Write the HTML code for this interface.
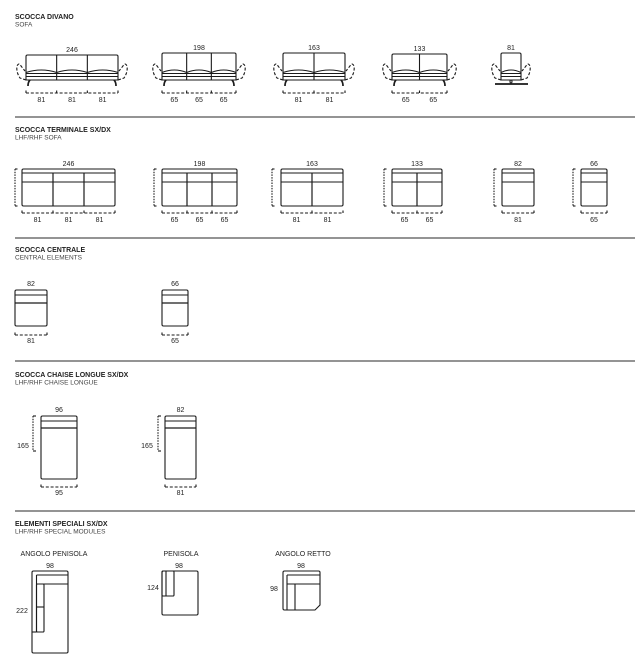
<!DOCTYPE html>
<html><head><meta charset="utf-8"><style>
html,body{margin:0;padding:0;background:#fff;}
svg{display:block;}
text{font-family:"Liberation Sans",sans-serif;fill:#222;}
.h{font-size:7px;font-weight:bold;}
.s{font-size:6.5px;fill:#444;}
.n{font-size:7px;text-anchor:middle;}
</style></head><body>
<svg id="d" width="635" height="659" viewBox="0 0 635 659" xmlns="http://www.w3.org/2000/svg">
<g id="g" fill="none" stroke="#1a1a1a" stroke-width="1.1"></g>
<g id="t"></g>
</svg>
<script>
var G=document.getElementById('g'),T=document.getElementById('t'),NS='http://www.w3.org/2000/svg';
function el(p,tag,a,txt){var e=document.createElementNS(NS,tag);for(var k in a)e.setAttribute(k,a[k]);if(txt!==undefined)e.textContent=txt;p.appendChild(e);return e;}
function P(d,extra){var a={d:d};for(var k in extra)a[k]=extra[k];return el(G,'path',a);}
function L(x1,y1,x2,y2,extra){var a={x1:x1,y1:y1,x2:x2,y2:y2};for(var k in extra)a[k]=extra[k];return el(G,'line',a);}
function R(x,y,w,h,rx){return el(G,'rect',{x:x,y:y,width:w,height:h,rx:rx||1.5});}
function tx(x,y,s,c){return el(T,'text',{x:x,y:y,'class':c||'n'},s);}
var D={'stroke-dasharray':'3,1.8'};
function dim(x1,x2,y,divs,labels,ly){
  L(x1,y,x2,y,D);
  var pts=[x1].concat(divs).concat([x2]);
  pts.forEach(function(p){L(p,y,p,y-2.5);});
  for(var i=0;i<labels.length;i++){tx((pts[i]+pts[i+1])/2,ly,labels[i]);}
}
function divsOf(x1,x2,n){var a=[];for(var i=1;i<n;i++)a.push(x1+(x2-x1)*i/n);return a;}
function hdr(y,a,b){tx(15,y,a,'h');tx(15,y+7.5,b,'s');}
hdr(19,'SCOCCA DIVANO','SOFA');
hdr(132,'SCOCCA TERMINALE SX/DX','LHF/RHF SOFA');
hdr(252,'SCOCCA CENTRALE','CENTRAL ELEMENTS');
hdr(377,'SCOCCA CHAISE LONGUE SX/DX','LHF/RHF CHAISE LONGUE');
hdr(526,'ELEMENTI SPECIALI SX/DX','LHF/RHF SPECIAL MODULES');
[117,238,361,511].forEach(function(y){L(15,y,635,y,{stroke:'#555','stroke-width':1.3});});
function sofa(x1,x2,n,lab,total,top){
  var dv=divsOf(x1,x2,n);
  P('M'+x1+',80 L'+x1+','+(top+1.5)+' Q'+x1+','+top+' '+(x1+1.5)+','+top+' L'+(x2-1.5)+','+top+' Q'+x2+','+top+' '+x2+','+(top+1.5)+' L'+x2+',80 Z');
  dv.forEach(function(d){L(d,top,d,80);});
  var pts=[x1].concat(dv).concat([x2]);
  for(var i=0;i<n;i++){P('M'+pts[i]+',72.5 Q'+(pts[i]+pts[i+1])/2+',67.5 '+pts[i+1]+',72.5');}
  L(x1,73.5,x2,73.5);L(x1,76.5,x2,76.5);
  P('M'+x1+',80 L'+(x1-6)+',78 Q'+(x1-10)+',72 '+(x1-9)+',66 Q'+(x1-7)+',62 '+(x1-5)+',66 L'+(x1-1)+',71',D);
  P('M'+x2+',80 L'+(x2+6)+',78 Q'+(x2+10)+',72 '+(x2+9)+',66 Q'+(x2+7)+',62 '+(x2+5)+',66 L'+(x2+1)+',71',D);
  P('M'+(x1+4)+',80 Q'+(x1+2)+',82 '+(x1+2)+',86',{'stroke-width':1.7});
  P('M'+(x2-4)+',80 Q'+(x2-2)+',82 '+(x2-2)+',86',{'stroke-width':1.7});
  dim(x1,x2,93,dv,lab,102);
  tx((x1+x2)/2,top-3,total);
}
sofa(26,118,3,['81','81','81'],'246',55);
sofa(162,236,3,['65','65','65'],'198',53);
sofa(283,345,2,['81','81'],'163',53);
sofa(392,447,2,['65','65'],'133',54);
(function(){var x1=501,x2=521,top=53;
  P('M'+x1+',80 L'+x1+','+(top+1.5)+' Q'+x1+','+top+' '+(x1+1.5)+','+top+' L'+(x2-1.5)+','+top+' Q'+x2+','+top+' '+x2+','+(top+1.5)+' L'+x2+',80 Z');
  P('M'+x1+',72.5 Q511,67.5 '+x2+',72.5');L(x1,73.5,x2,73.5);L(x1,76.5,x2,76.5);
  P('M'+x1+',80 L'+(x1-6)+',78 Q'+(x1-10)+',72 '+(x1-9)+',66 Q'+(x1-7)+',62 '+(x1-5)+',66 L'+(x1-1)+',71',D);
  P('M'+x2+',80 L'+(x2+6)+',78 Q'+(x2+10)+',72 '+(x2+9)+',66 Q'+(x2+7)+',62 '+(x2+5)+',66 L'+(x2+1)+',71',D);
  R(510,80,2,3,0);L(495,84,528,84,{'stroke-width':1.7});
  tx(511,50,'81');})();
function term(x1,x2,n,lab,total,xd){
  var top=169,bot=206,dv=divsOf(x1,x2,n);
  R(x1,top,x2-x1,bot-top,1.5);
  L(x1,top+4,x2,top+4);L(x1,182,x2,182);
  dv.forEach(function(d){L(d,top+4,d,bot,{'stroke-width':1.2});});
  L(xd,top,xd,bot,{'stroke-dasharray':'1.5,1.2'});L(xd,top,xd+2.5,top);L(xd,bot,xd+2.5,bot);
  dim(x1,x2,213,dv,lab,222);
  tx((x1+x2)/2,166,total);
}
term(22,115,3,['81','81','81'],'246',15);
term(162,237,3,['65','65','65'],'198',154);
term(281,343,2,['81','81'],'163',272);
term(392,442,2,['65','65'],'133',384);
term(502,534,1,['81'],'82',494);
term(581,607,1,['65'],'66',573);
function cen(x1,x2,lab,total){R(x1,290,x2-x1,36,1.5);L(x1,295,x2,295);L(x1,303,x2,303,{'stroke-width':1.2});dim(x1,x2,335,[],[lab],343);tx((x1+x2)/2,286,total);}
cen(15,47,'81','82');cen(162,188,'65','66');
function ch(x1,x2,lab,total,xd,lx){
  R(x1,416,x2-x1,63,1.5);L(x1,421,x2,421);L(x1,428,x2,428,{'stroke-width':1.2});
  L(xd,416,xd,451,{'stroke-dasharray':'1.5,1.2'});L(xd,416,xd+3,416);L(xd,451,xd+3,451);
  tx(lx,448,'165');dim(x1,x2,487,[],[lab],495);tx((x1+x2)/2,412,total);
}
ch(41,77,'95','96',33,23);ch(165,196,'81','82',158,147);
tx(54,556,'ANGOLO PENISOLA');tx(181,556,'PENISOLA');tx(303,556,'ANGOLO RETTO');
tx(50,568,'98');tx(179,568,'98');tx(301,568,'98');
tx(22,613,'222');tx(153,590,'124');tx(274,591,'98');
R(32,571,36,82,1.5);L(36.5,575,68,575);L(36.5,584,68,584);L(36.5,575,36.5,632);R(36.5,584,7.5,48,1);L(36.5,607,44,607);L(32,632,36.5,632);
R(162,571,36,44,1.5);R(162,571,12,25,1);L(166,571,166,596);
P('M283,572.5 Q283,571 284.5,571 L318.5,571 Q320,571 320,572.5 L320,605 L315,610 L284.5,610 Q283,610 283,608.5 Z');
L(287,575,320,575);L(287,584,320,584);L(287,575,287,610);L(295,584,295,610);
</script>
</body></html>
